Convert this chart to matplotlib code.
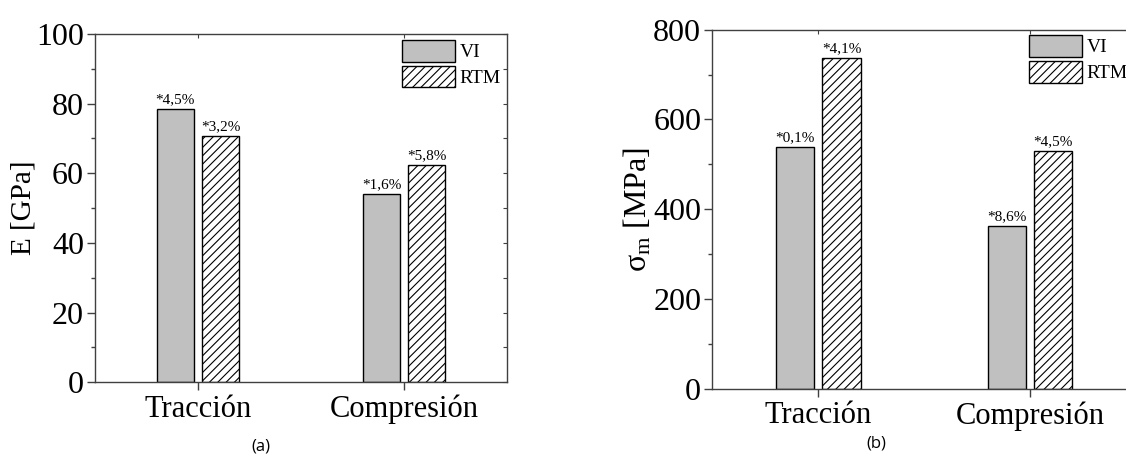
import numpy as np
from matplotlib import pyplot as plt

plt.rcParams['font.family'] = ['Liberation Serif', 'DejaVu Serif']
plt.rcParams['mathtext.fontset'] = 'custom'
plt.rcParams['mathtext.rm'] = 'Liberation Serif'
plt.rcParams['mathtext.it'] = 'Liberation Serif:italic'
plt.rcParams['hatch.linewidth'] = 0.8

##### Data
categories = ['Tracción', 'Compresión']
series = ['VI', 'RTM']

E_vi = [78.6, 54.2]          # E [GPa]
E_rtm = [70.6, 62.4]
E_err = [['*4,5%', '*1,6%'], ['*3,2%', '*5,8%']]

s_vi = [539, 362]            # sigma_m [MPa]
s_rtm = [736, 529]
s_err = [['*0,1%', '*8,6%'], ['*4,1%', '*4,5%']]

yticks_a = [0, 20, 40, 60, 80, 100]
yticks_b = [0, 200, 400, 600, 800]

spine_col = '#404040'
gray = '#c0c0c0'


def draw_panel(ax, vi, rtm, notes, ymax, yticks, minor_step, ylabel, leg_anchor):
    x = np.arange(1, len(categories) + 1)
    w = 0.18
    off = 0.11
    b1 = ax.bar(x - off, vi, w, color=gray, edgecolor='black', linewidth=1, label=series[0])
    b2 = ax.bar(x + off, rtm, w, color='white', edgecolor='black', linewidth=1,
                hatch='////', label=series[1])
    for bars, txt in zip([b1, b2], notes):
        for b, t in zip(bars, txt):
            ax.annotate(t, (b.get_x() + b.get_width() / 2, b.get_height()),
                        xytext=(0, 2), textcoords='offset points',
                        ha='center', va='bottom', fontsize=11)
    ax.set_xlim(0.5, 2.5)
    ax.set_ylim(0, ymax)
    ax.set_xticks(x)
    ax.set_xticklabels(categories, fontsize=22)
    ax.set_yticks(yticks)
    ax.set_yticks(np.arange(minor_step, ymax, 2 * minor_step), minor=True)
    ax.tick_params(axis='y', which='major', labelsize=23, length=6, width=1,
                   color=spine_col, pad=2)
    ax.tick_params(axis='y', which='minor', length=3, width=1, color=spine_col)
    ax.tick_params(axis='x', length=6, width=1, color=spine_col, pad=3)
    for s in ax.spines.values():
        s.set_color(spine_col)
        s.set_linewidth(1)
    # inward ticks on the right and top
    r = ax.secondary_yaxis('right')
    r.set_yticks(np.arange(0, ymax + 1, minor_step))
    r.tick_params(direction='in', length=3, color=spine_col, labelright=False)
    r.spines['right'].set_visible(False)
    t = ax.secondary_xaxis('top')
    t.set_xticks(x)
    t.tick_params(direction='in', length=3, color=spine_col, labeltop=False)
    t.spines['top'].set_visible(False)
    ax.set_ylabel(ylabel, fontsize=21, labelpad=0)
    ax.legend(loc='upper left', bbox_to_anchor=leg_anchor, frameon=False,
              fontsize=14, handlelength=2.7, handleheight=1.35, handletextpad=0.25,
              labelspacing=0.2, borderpad=0, borderaxespad=0)


fig = plt.figure(figsize=(11.26, 4.57), dpi=100)
ax1 = fig.add_axes([95 / 1126, 74.7 / 457, 412.3 / 1126, 348.3 / 457])
ax2 = fig.add_axes([712.3 / 1126, 68.3 / 457, 423.5 / 1126, 359 / 457])

draw_panel(ax1, E_vi, E_rtm, E_err, 100, yticks_a, 10, 'E [GPa]', (0.745, 0.983))
draw_panel(ax2, s_vi, s_rtm, s_err, 800, yticks_b, 100,
           r'$\mathregular{\sigma_{m}}$ [MPa]', (0.7485, 0.985))
ax2.yaxis.label.set_size(23)

fig.text(261 / 1126, 1 - 446.7 / 457, '(a)', ha='center', va='center',
         fontsize=12, family=['Open Sans', 'DejaVu Sans'])
fig.text(876 / 1126, 1 - 443 / 457, '(b)', ha='center', va='center',
         fontsize=12, family=['Open Sans', 'DejaVu Sans'])

plt.savefig('out.png', dpi=100)
